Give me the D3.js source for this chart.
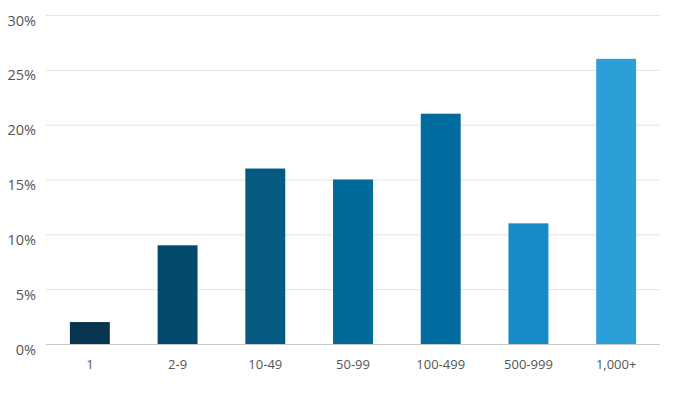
<!DOCTYPE html>
<html><head><meta charset="utf-8">
<script src="https://cdn.jsdelivr.net/npm/d3@7"></script>
<style>body{margin:0;background:#fff}svg{display:block}</style>
</head><body><svg id="c" width="683" height="393"></svg>
<script>
const categories = ["1","2-9","10-49","50-99","100-499","500-999","1,000+"];
const values = [2, 9, 16, 15, 21, 11, 26];
const colors = ["#08344f","#014a6e","#045a81","#026a99","#006b9f","#1689c7","#2a9fd8"];
const yTicks = [0,5,10,15,20,25,30];

const svg = d3.select("#c");
const m = {l:46, r:23, t:15, b:49};
const W = 683, H = 393;
const x = d3.scaleBand().domain(categories).range([m.l, W-m.r]).paddingInner(0.545).paddingOuter(0.2725);
const y = d3.scaleLinear().domain([0,30]).range([H-m.b, m.t]);

const grid = svg.append("g");
grid.selectAll("line").data(yTicks).join("line")
  .attr("x1", m.l).attr("x2", W-m.r)
  .attr("y1", d=>y(d)+0.5).attr("y2", d=>y(d)+0.5)
  .attr("stroke", d=> d===0 ? "#c8c8c8" : "#e3e3e3").attr("stroke-width",1);

const yAxis = d3.axisLeft(y).tickValues(yTicks).tickFormat(d=>d+"%").tickSize(0).tickPadding(10);
svg.append("g").attr("transform",`translate(${m.l},0)`).call(yAxis)
  .call(g=>g.select(".domain").remove())
  .call(g=>g.selectAll("text").attr("font-family","'Open Sans', sans-serif").attr("font-size",14.5).attr("fill","#555").attr("dy","0.7em"));

svg.append("g").selectAll("rect").data(values).join("rect")
  .attr("x",(d,i)=>x(categories[i])).attr("width",x.bandwidth())
  .attr("y",d=>y(d)).attr("height",d=>y(0)-y(d))
  .attr("fill",(d,i)=>colors[i]);

const xAxis = d3.axisBottom(x).tickSize(0).tickPadding(16);
svg.append("g").attr("transform",`translate(0,${H-m.b})`).call(xAxis)
  .call(g=>g.select(".domain").remove())
  .call(g=>g.selectAll("text").attr("font-family","'Open Sans', sans-serif").attr("font-size",13).attr("fill","#555"));
</script></body></html>
